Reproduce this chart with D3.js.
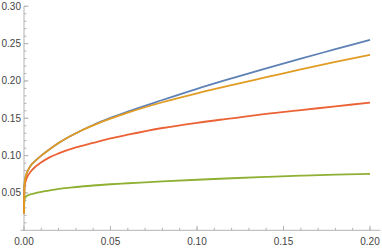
<!DOCTYPE html>
<html>
<head>
<meta charset="utf-8">
<script src="https://cdn.jsdelivr.net/npm/d3@7"></script>
<style>
  body { margin: 0; background: #fff; }
  text { font-family: "Liberation Sans", Arial, sans-serif; font-size: 10px; fill: #444; }
</style>
</head>
<body>
<div id="chart"></div>
<script>
var xs = [0, 0.0002, 0.0005, 0.001, 0.002, 0.004, 0.007, 0.01, 0.015, 0.02, 0.03, 0.04, 0.05, 0.06, 0.08, 0.1, 0.12, 0.14, 0.16, 0.18, 0.2];
var blue   = [0.022, 0.058, 0.066, 0.072, 0.079, 0.087, 0.094, 0.100, 0.109, 0.117, 0.130, 0.141, 0.1505, 0.159, 0.1745, 0.1895, 0.2035, 0.217, 0.230, 0.2425, 0.255];
var orange = [0.022, 0.058, 0.066, 0.072, 0.079, 0.087, 0.094, 0.100, 0.109, 0.117, 0.130, 0.1405, 0.1495, 0.1575, 0.1715, 0.1835, 0.1945, 0.205, 0.2155, 0.2255, 0.235];
var red    = [0.022, 0.054, 0.061, 0.066, 0.072, 0.079, 0.086, 0.091, 0.098, 0.103, 0.111, 0.117, 0.123, 0.128, 0.137, 0.144, 0.150, 0.156, 0.161, 0.166, 0.171];
var green  = [0.022, 0.040, 0.043, 0.045, 0.0465, 0.0483, 0.050, 0.0515, 0.0535, 0.0555, 0.058, 0.060, 0.0617, 0.063, 0.0655, 0.0677, 0.0697, 0.0715, 0.0731, 0.0745, 0.0757];
var xTicks = [0, 0.05, 0.1, 0.15, 0.2];
var yTicks = [0.05, 0.1, 0.15, 0.2, 0.25, 0.3];

var series = [
    {values: blue, color: "#5e81b5"},
    {values: green, color: "#8fb032"},
    {values: red, color: "#eb6235"},
    {values: orange, color: "#e19c24"}
];

var width = 382, height = 248;
var x = d3.scaleLinear().domain([0, 0.2]).range([24, 370]);
var y = d3.scaleLinear().domain([0, 0.3]).range([230.3, 6.3]);

var svg = d3.select("#chart").append("svg")
    .attr("width", width)
    .attr("height", height);

// minor ticks every 0.01
var minorX = d3.range(0, 0.2001, 0.01);
var minorY = d3.range(0.01, 0.3001, 0.01);

var axisColor = "#b3b3b3";

// x axis
var gx = svg.append("g");
gx.append("line")
    .attr("x1", x(-0.002)).attr("x2", x(0.206))
    .attr("y1", y(0)).attr("y2", y(0))
    .attr("stroke", axisColor);
gx.selectAll(".minor").data(minorX).enter().append("line")
    .attr("x1", d => x(d)).attr("x2", d => x(d))
    .attr("y1", y(0)).attr("y2", y(0) - 2.5)
    .attr("stroke", axisColor);
gx.selectAll(".major").data(xTicks).enter().append("line")
    .attr("x1", d => x(d)).attr("x2", d => x(d))
    .attr("y1", y(0)).attr("y2", y(0) - 4.5)
    .attr("stroke", axisColor);
gx.selectAll("text").data(xTicks).enter().append("text")
    .attr("x", d => x(d))
    .attr("y", 245)
    .attr("text-anchor", "middle")
    .text(d => d3.format(".2f")(d));

// y axis
var gy = svg.append("g");
gy.append("line")
    .attr("x1", x(0)).attr("x2", x(0))
    .attr("y1", y(0)).attr("y2", y(0.3))
    .attr("stroke", axisColor);
gy.selectAll(".minor").data(minorY).enter().append("line")
    .attr("x1", x(0)).attr("x2", x(0) + 2.5)
    .attr("y1", d => y(d)).attr("y2", d => y(d))
    .attr("stroke", axisColor);
gy.selectAll(".major").data(yTicks).enter().append("line")
    .attr("x1", x(0)).attr("x2", x(0) + 4.5)
    .attr("y1", d => y(d)).attr("y2", d => y(d))
    .attr("stroke", axisColor);
gy.selectAll("text").data(yTicks).enter().append("text")
    .attr("x", 21)
    .attr("y", d => y(d) + 3.5)
    .attr("text-anchor", "end")
    .text(d => d3.format(".2f")(d));

// curves
var line = d3.line()
    .x((d, i) => x(xs[i]))
    .y(d => y(d))
    .curve(d3.curveMonotoneX);

svg.selectAll(".curve").data(series).enter().append("path")
    .attr("class", "curve")
    .attr("d", d => line(d.values))
    .attr("fill", "none")
    .attr("stroke", d => d.color)
    .attr("stroke-width", 1.8);
</script>
</body>
</html>
